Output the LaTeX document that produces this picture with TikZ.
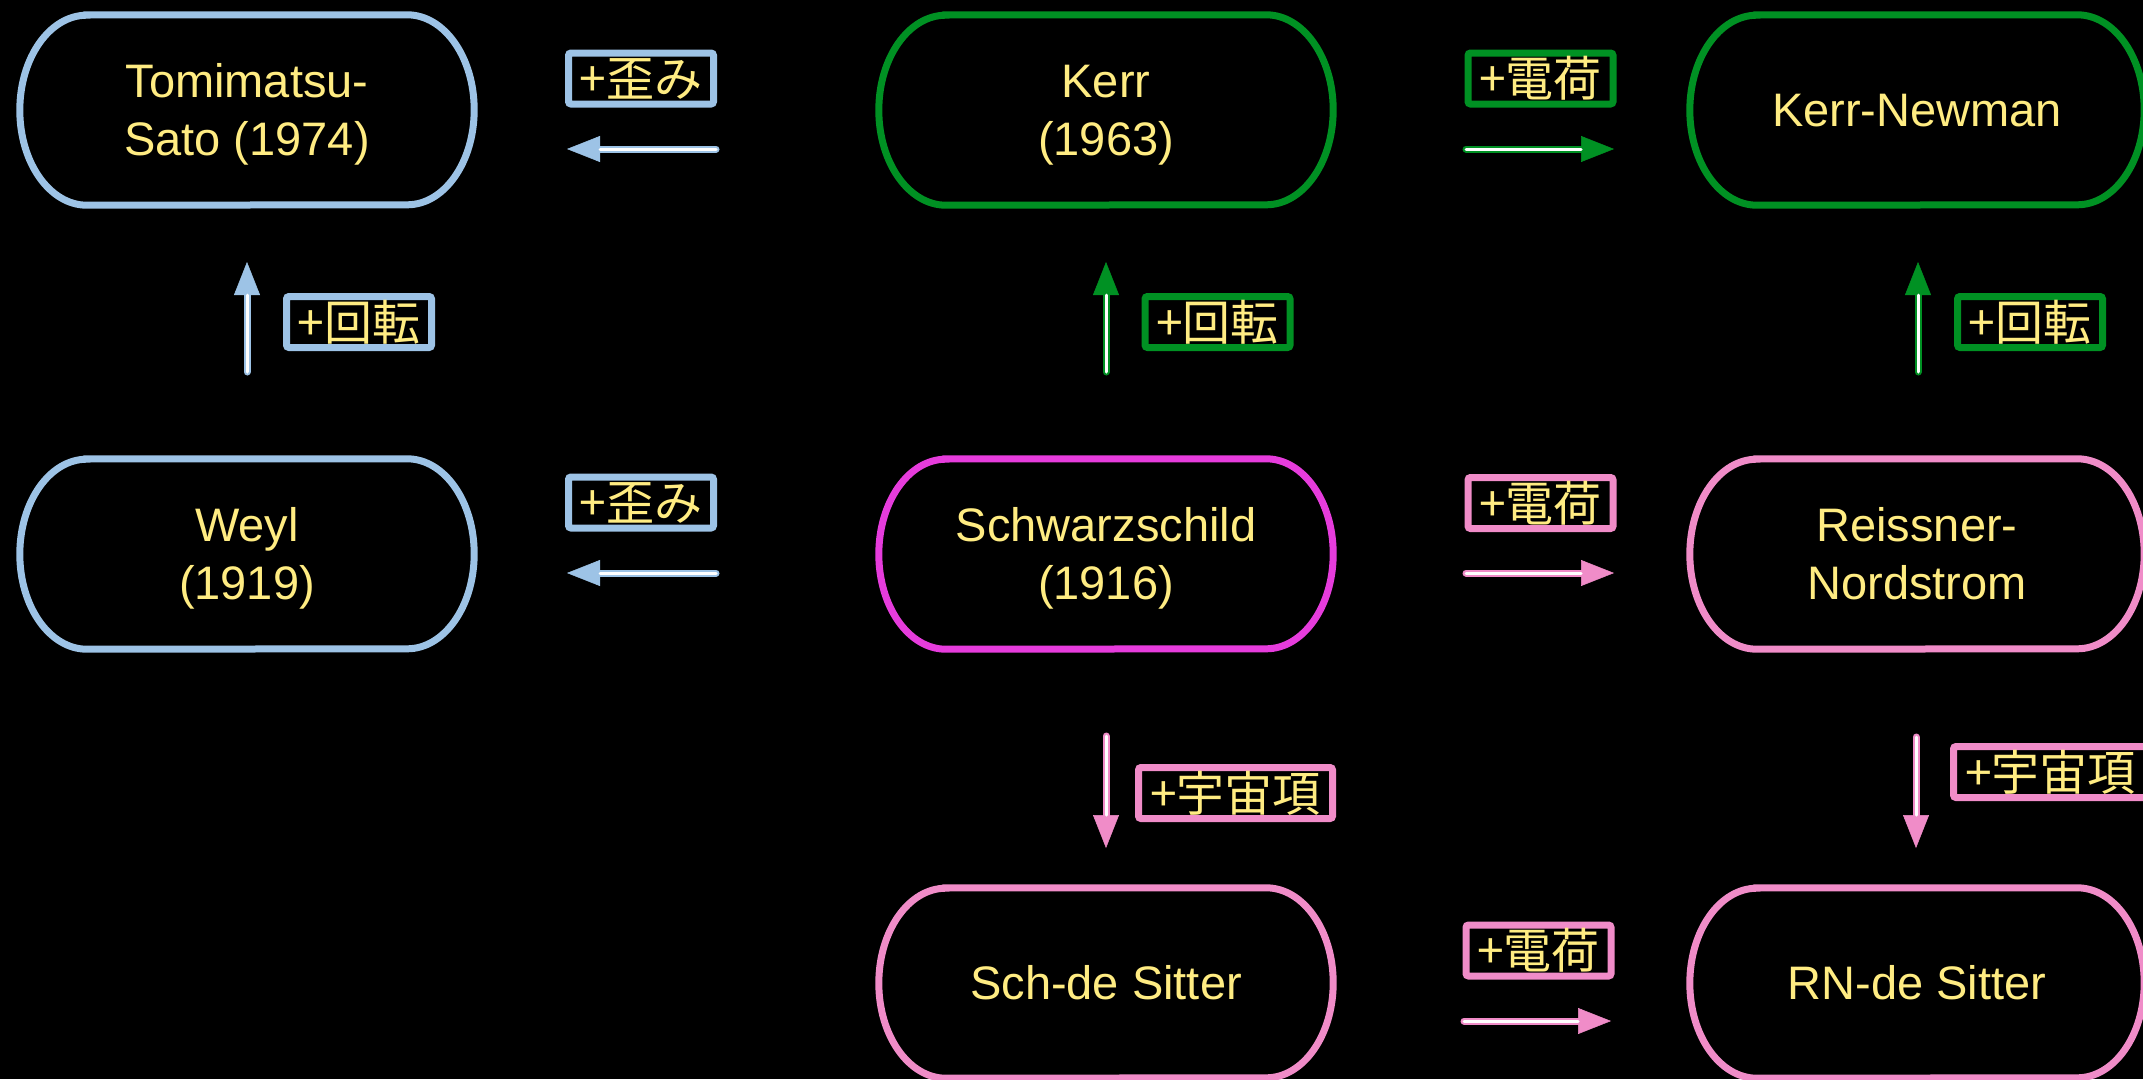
\documentclass[tikz,border=0pt]{standalone}
\usepackage{fontspec}
\setmainfont{Liberation Sans}
\newfontfamily\cjkfont{Noto Sans CJK JP}
\usetikzlibrary{arrows.meta,calc}
\definecolor{bhblue}{RGB}{157,195,230}
\definecolor{bhgreen}{RGB}{0,145,35}
\definecolor{bhmag}{RGB}{230,60,220}
\definecolor{bhpink}{RGB}{240,140,200}
\definecolor{bhtxt}{RGB}{255,236,130}
\newcommand\bhstrut{\rule[-0.212em]{0pt}{1.117em}}
% name, x, y, colour, text
\newcommand\bhnode[5]{%
  \node[bhshape] (#1) at (#2,#3) {};
  \draw[line width=7pt, draw=#4] (#1.north west) -- (#1.north east)
     arc[start angle=90, end angle=-90, x radius=67, y radius=95]
     -- (#1.south west) arc[start angle=270, end angle=90, x radius=67, y radius=95] -- cycle;
  \node[bhtext] (#1-t) at (#1.center) {\bhstrut#5\bhstrut};
}
\newcommand\bharrow[3]{%
  \draw[draw=#1, line width=7pt, line cap=round, -{Triangle[length=33pt,width=26pt,line width=0.5pt]}] (#2) -- (#3);
  \draw[white, line width=3pt, line cap=round, shorten >=33pt] (#2) -- (#3);
}
\begin{document}
\begin{tikzpicture}[x=1pt,y=1pt,
  bhshape/.style={minimum width=320pt, minimum height=190pt, inner sep=0pt},
  bhtext/.style={text=bhtxt, align=center, font=\fontsize{47}{58.5}\selectfont, inner sep=0pt},
  lbl/.style={draw=#1, line width=7pt, rounded corners=2.5pt, text=bhtxt,
    font=\cjkfont\fontsize{48}{50}\selectfont, inner sep=0pt, minimum height=51pt,
    text height=38pt, text depth=2pt},
  lbltwo/.style={minimum width=145pt},
  lblthree/.style={minimum width=194pt}]
\useasboundingbox (0,0) rectangle (2143,-1079);
\fill[black] (0,0) rectangle (2143,-1079);

\bhnode{tomi}{247}{-110}{bhblue}{Tomimatsu-\\Sato (1974)}
\bhnode{kerr}{1106}{-110}{bhgreen}{Kerr\\(1963)}
\bhnode{kn}{1917}{-110}{bhgreen}{Kerr-Newman}
\bhnode{weyl}{247}{-554}{bhblue}{Weyl\\(1919)}
\bhnode{schw}{1106}{-554}{bhmag}{Schwarzschild\\(1916)}
\bhnode{rn}{1917}{-554}{bhpink}{Reissner-\\Nordstrom}
\bhnode{schds}{1106}{-983}{bhpink}{Sch-de Sitter}
\bhnode{rnds}{1917}{-983}{bhpink}{RN-de Sitter}

\node[lbl=bhblue, lbltwo] (l1) at (641,-78.5) {+歪み};
\node[lbl=bhgreen, lbltwo] (l2) at (1540.5,-78.5) {+電荷};
\node[lbl=bhblue, lbltwo] (l3) at (359,-322) {+回転};
\node[lbl=bhgreen, lbltwo] (l4) at (1217.5,-322) {+回転};
\node[lbl=bhgreen, lbltwo] (l5) at (2030,-322) {+回転};
\node[lbl=bhblue, lbltwo] (l6) at (641,-502.5) {+歪み};
\node[lbl=bhpink, lbltwo] (l7) at (1540.5,-503) {+電荷};
\node[lbl=bhpink, lblthree] (l8) at (1235.5,-793) {+宇宙項};
\node[lbl=bhpink, lblthree] (l9) at (2050.5,-772) {+宇宙項};
\node[lbl=bhpink, lbltwo] (l10) at (1538.5,-950.5) {+電荷};

\coordinate (a1s) at (716,-149);   \coordinate (a1e) at (567,-149);
\coordinate (a2s) at (1466,-149);  \coordinate (a2e) at (1614,-149);
\coordinate (a3s) at (247,-372);   \coordinate (a3e) at (247,-262);
\coordinate (a4s) at (1106,-372);  \coordinate (a4e) at (1106,-262);
\coordinate (a5s) at (1918,-372);  \coordinate (a5e) at (1918,-262);
\coordinate (a6s) at (716,-573);   \coordinate (a6e) at (567,-573);
\coordinate (a7s) at (1466,-573);  \coordinate (a7e) at (1614,-573);
\coordinate (a8s) at (1106,-736);  \coordinate (a8e) at (1106,-848);
\coordinate (a9s) at (1916,-737);  \coordinate (a9e) at (1916,-848);
\coordinate (a10s) at (1464,-1021); \coordinate (a10e) at (1611,-1021);

\bharrow{bhblue}{a1s}{a1e}
\bharrow{bhgreen}{a2s}{a2e}
\bharrow{bhblue}{a3s}{a3e}
\bharrow{bhgreen}{a4s}{a4e}
\bharrow{bhgreen}{a5s}{a5e}
\bharrow{bhblue}{a6s}{a6e}
\bharrow{bhpink}{a7s}{a7e}
\bharrow{bhpink}{a8s}{a8e}
\bharrow{bhpink}{a9s}{a9e}
\bharrow{bhpink}{a10s}{a10e}
\end{tikzpicture}
\end{document}
